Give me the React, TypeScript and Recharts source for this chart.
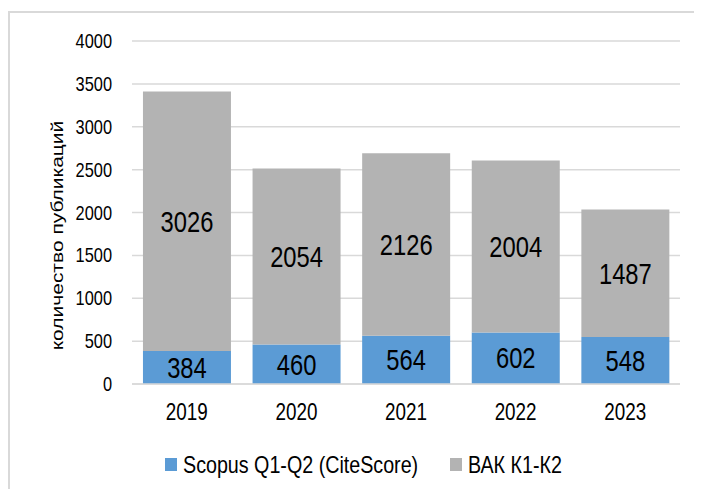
import React from 'react';
import { BarChart, Bar, XAxis, YAxis, CartesianGrid, Legend, LabelList } from 'recharts';

const years = ['2019', '2020', '2021', '2022', '2023'];
const scopus = [384, 460, 564, 602, 548];
const vak = [3026, 2054, 2126, 2004, 1487];
const yTicks = [0, 500, 1000, 1500, 2000, 2500, 3000, 3500, 4000];
const seriesNames = ['Scopus Q1-Q2 (CiteScore)', 'ВАК К1-К2'];
const yTitle = 'количество публикаций';

const data = years.map((y, i) => ({ year: y, scopus: scopus[i], vak: vak[i] }));

const FONT = "'Liberation Sans', Arial, sans-serif";
const SX = 0.82;
const BLUE = '#5B9BD5';
const GRAY = '#B3B3B3';
const GRID = '#D9D9D9';

const YLabel = (props: any) => {
  const vb = props.viewBox || {};
  const cx = (vb.x || 0) + 47;
  const cy = (vb.y || 0) + (vb.height || 0) / 2 + 23;
  return (
    <g transform={`translate(${cx},${cy}) scale(${SX},1) rotate(-90)`}>
      <text x={0} y={0} textAnchor="middle" dy="0.355em" fontFamily={FONT} fontSize={21} fill="#000">
        {yTitle}
      </text>
    </g>
  );
};

const XTick = (props: any) => {
  const { x, y, payload } = props;
  return (
    <g transform={`translate(${x},${y}) scale(${SX},1)`}>
      <text x={0} y={0} dy="0.71em" textAnchor="middle" fontFamily={FONT} fontSize={23} fill="#000">{payload.value}</text>
    </g>
  );
};

const YTick = (props: any) => {
  const { x, y, payload } = props;
  return (
    <g transform={`translate(${x},${y}) scale(${SX},1)`}>
      <text x={0} y={0} dy="0.355em" textAnchor="end" fontFamily={FONT} fontSize={20} fill="#000">{payload.value}</text>
    </g>
  );
};

const BarLabel = (props: any) => {
  const { x, y, width, height, value } = props;
  const cx = Number(x) + Number(width) / 2;
  const cy = Number(y) + Number(height) / 2;
  return (
    <g transform={`translate(${cx},${cy}) scale(${SX},1)`}>
      <text x={0} y={0} dy="0.355em" textAnchor="middle" fontFamily={FONT} fontSize={29} fill="#000">{value}</text>
    </g>
  );
};

const spanStyle: React.CSSProperties = {
  position: 'absolute', top: 1, lineHeight: '28px', whiteSpace: 'nowrap',
  transform: `scaleX(${SX})`, transformOrigin: 'left center',
};

const LegendContent = () => (
  <div style={{ height: 30, width: 692, position: 'relative', fontFamily: FONT, fontSize: 24, color: '#000' }}>
    <div style={{ position: 'absolute', left: 155, top: 8, width: 12, height: 13, background: BLUE }} />
    <span style={{ ...spanStyle, left: 173 }}>{seriesNames[0]}</span>
    <div style={{ position: 'absolute', left: 440, top: 8, width: 12, height: 13, background: GRAY }} />
    <span style={{ ...spanStyle, left: 458 }}>{seriesNames[1]}</span>
  </div>
);

export default function App() {
  return (
    <div style={{ marginTop: 3, width: 694, height: 478, borderTop: `2px solid ${GRID}`, borderLeft: `2px solid ${GRID}`, boxSizing: 'border-box', background: '#fff' }}>
      <BarChart width={692} height={476} data={data} margin={{ top: 28, right: 22, left: 0, bottom: 9 }} barCategoryGap="10%">
        <CartesianGrid vertical={false} stroke={GRID} strokeWidth={1.5} />
        <XAxis dataKey="year" height={66} tickSize={0} tickMargin={20} tickLine={false}
          axisLine={{ stroke: GRID, strokeWidth: 1.5 }}
          tick={<XTick />} />
        <YAxis width={122} domain={[0, 4000]} ticks={yTicks} interval={0} tickSize={0} tickMargin={20}
          tickLine={false} axisLine={false}
          tick={<YTick />}
          label={<YLabel />} />
        <Legend verticalAlign="bottom" align="left" content={<LegendContent />} wrapperStyle={{ left: 0, width: 692, height: 30 }} />
        <Bar dataKey="scopus" stackId="a" fill={BLUE} isAnimationActive={false} name={seriesNames[0]}>
          <LabelList dataKey="scopus" content={<BarLabel />} />
        </Bar>
        <Bar dataKey="vak" stackId="a" fill={GRAY} isAnimationActive={false} name={seriesNames[1]}>
          <LabelList dataKey="vak" content={<BarLabel />} />
        </Bar>
      </BarChart>
    </div>
  );
}
